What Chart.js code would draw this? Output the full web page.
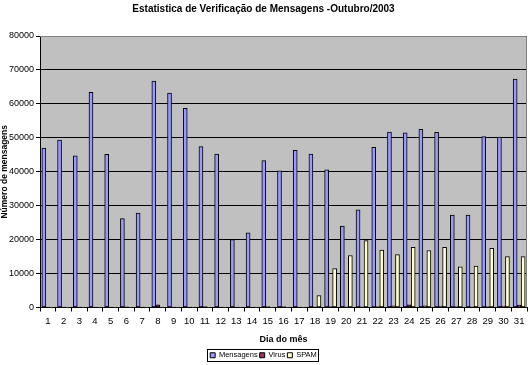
<!DOCTYPE html>
<html><head><meta charset="utf-8">
<script src="https://cdn.jsdelivr.net/npm/chart.js@4.4.1/dist/chart.umd.min.js"></script>
<style>html,body{margin:0;padding:0;background:#fff}#wrap{width:530px;height:365px}</style>
</head><body><div id="wrap"><canvas id="c" width="530" height="365"></canvas></div>
<script>
const days = ['1','2','3','4','5','6','7','8','9','10','11','12','13','14','15','16','17','18','19','20','21','22','23','24','25','26','27','28','29','30','31'];
const mensagens = [47000,49300,44700,63400,45100,26200,27800,66700,63200,58700,47400,45200,20000,22000,43300,40300,46300,45200,40600,24000,28800,47200,51700,51500,52500,51600,27200,27200,50400,50200,67300];
const virus = [150,150,150,150,150,200,150,800,150,150,250,150,150,150,250,250,150,200,300,200,200,300,500,800,500,400,300,200,300,400,700];
const spam = [100,100,100,100,100,100,100,100,100,100,100,100,100,100,100,100,100,3500,11500,15300,19700,16900,15600,17700,16800,17700,12000,12200,17400,15000,15000];
const seriesNames = ['Mensagens','Virus','SPAM'];
const titleText = 'Estatistica de Verificação de Mensagens -Outubro/2003';
const xTitle = 'Dia do mês';
const yTitle = 'Número de mensagens';

const FONT = "'Liberation Sans', Arial, sans-serif";
Chart.defaults.font.family = FONT;
Chart.defaults.color = '#000';

const plotBg = {
  id: 'plotBg',
  beforeDraw(chart) {
    const a = chart.chartArea, ctx = chart.ctx;
    ctx.save();
    ctx.fillStyle = '#C0C0C0';
    ctx.fillRect(a.left, a.top, a.right - a.left, a.bottom - a.top);
    ctx.restore();
  },
  afterDraw(chart) {
    const a = chart.chartArea, ctx = chart.ctx;
    ctx.save();
    ctx.strokeStyle = '#808080';
    ctx.lineWidth = 1;
    ctx.beginPath();
    ctx.moveTo(a.left, a.top + 0.5);
    ctx.lineTo(a.right - 0.5, a.top + 0.5);
    ctx.lineTo(a.right - 0.5, a.bottom);
    ctx.stroke();
    const lg = chart.legend;
    if (lg && lg.legendHitBoxes && lg.legendHitBoxes.length) {
      const hb = lg.legendHitBoxes;
      let l = Infinity, r = -Infinity, t = Infinity, b = -Infinity;
      hb.forEach(h => { l = Math.min(l, h.left); r = Math.max(r, h.left + h.width); t = Math.min(t, h.top); b = Math.max(b, h.top + h.height); });
      ctx.strokeStyle = '#000';
      ctx.strokeRect(Math.round(l) - 2.5, Math.round(t) - 2.5, Math.round(r - l) + 4, Math.round(b - t) + 4);
    }
    ctx.restore();
  }
};

new Chart(document.getElementById('c'), {
  type: 'bar',
  data: {
    labels: days,
    datasets: [
      { label: seriesNames[0], data: mensagens, backgroundColor: '#9999FF', borderColor: '#000', borderWidth: 1, borderSkipped: false },
      { label: seriesNames[1], data: virus, backgroundColor: '#993366', borderColor: '#000', borderWidth: 1, borderSkipped: false },
      { label: seriesNames[2], data: spam, backgroundColor: '#FFFFCC', borderColor: '#000', borderWidth: 1, borderSkipped: false }
    ]
  },
  plugins: [plotBg],
  options: {
    responsive: false,
    animation: false,
    devicePixelRatio: 1,
    layout: { padding: { left: 0, right: 3, top: 0, bottom: -4 } },
    datasets: { bar: { barThickness: 4 } },
    plugins: {
      title: { display: true, text: titleText, font: { size: 10, weight: 'bold' }, color: '#000', padding: { top: 3, bottom: 21 } },
      legend: {
        position: 'bottom',
        labels: { boxWidth: 5, boxHeight: 5, font: { size: 7.5 }, padding: 2, color: '#000' }
      },
      tooltip: { enabled: false }
    },
    scales: {
      x: {
        grid: { offset: true, drawOnChartArea: false, drawTicks: true, tickLength: 4, color: '#000' },
        border: { color: '#000' },
        ticks: { font: { size: 9.5 }, color: '#000', padding: 4, maxRotation: 0, autoSkip: false },
        title: { display: true, text: xTitle, font: { size: 9, weight: 'bold' }, color: '#000', padding: { top: 2, bottom: 5 } },
        afterFit(s) { s.height = 42; }
      },
      y: {
        min: 0, max: 80000,
        ticks: { stepSize: 10000, font: { size: 9 }, color: '#000', padding: 2, callback: v => String(v) },
        grid: { color: '#000', tickLength: 4 },
        border: { color: '#000' },
        title: { display: true, text: yTitle, font: { size: 8.5, weight: 'bold' }, color: '#000', padding: { top: 0, bottom: 0 } },
        afterFit(s) { s.width = 40; }
      }
    }
  }
});
</script>
</body></html>
